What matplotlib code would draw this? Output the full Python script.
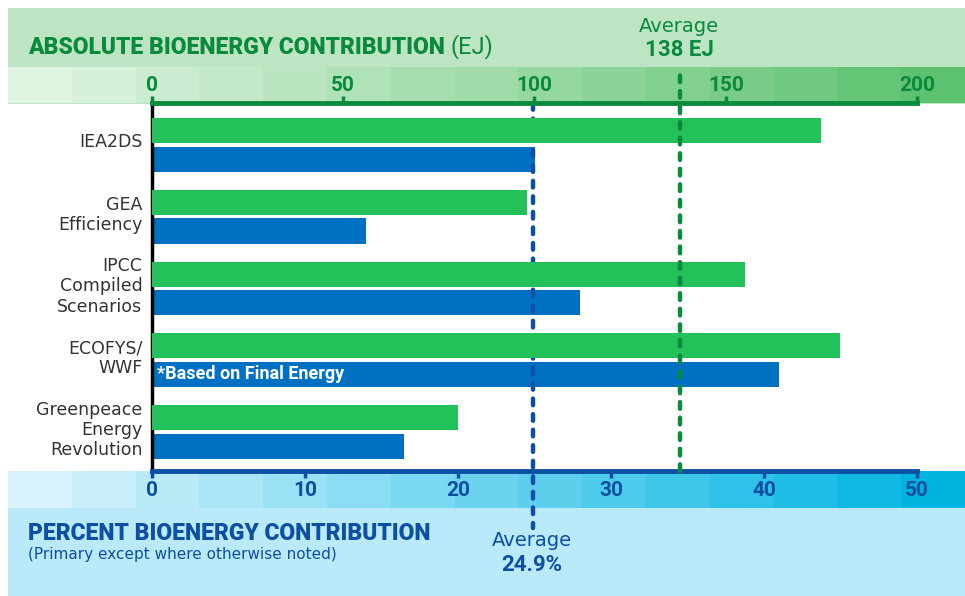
import numpy as np
import matplotlib
matplotlib.use('Agg')
import matplotlib.pyplot as plt
from matplotlib.patches import Rectangle
from matplotlib.colors import to_rgb

# data
scenarios = ['IEA2DS', 'GEA\nEfficiency', 'IPCC\nCompiled\nScenarios',
             'ECOFYS/\nWWF', 'Greenpeace\nEnergy\nRevolution']
absolute_ej = [175, 98, 155, 180, 80]
percent_share = [25, 14, 28, 41, 16.5]
avg_ej = 138
avg_pct = 24.9
ej_ticks = [0, 50, 100, 150, 200]
pct_ticks = [0, 10, 20, 30, 40, 50]

green = '#22c15a'
blue = '#0071c2'
dkgreen = '#0a8a3c'
dkblue = '#0c4fa3'
narrow = ['Roboto', 'DejaVu Sans']
label_font = ['DejaVu Sans']

W, H = 965, 596
fig = plt.figure(figsize=(W / 100, H / 100), dpi=100)

# background panels in pixel coords
bg = fig.add_axes([0, 0, 1, 1])
bg.set_xlim(0, W)
bg.set_ylim(H, 0)
bg.axis('off')
bg.add_patch(Rectangle((8, 8), W - 8, 96, color='#bde5c4', lw=0))
bg.add_patch(Rectangle((8, 471), W - 8, 125, color='#bae9f9', lw=0))

def steps(y0, y1, c0, c1, n=15):
    c0, c1 = np.array(to_rgb(c0)), np.array(to_rgb(c1))
    xs = np.linspace(8, W, n + 1)
    for i in range(n):
        t = i / (n - 1)
        bg.add_patch(Rectangle((xs[i], y0), xs[i + 1] - xs[i] + 0.5, y1 - y0,
                               color=c0 + (c1 - c0) * t, lw=0))

steps(67, 103, '#dff3e1', '#5cc26f')
steps(471, 508, '#d8f3fc', '#00b4e2')

# main axes
x0, x1, ytop, ybot = 152, 917, 103, 471
ax = fig.add_axes([x0 / W, 1 - ybot / H, (x1 - x0) / W, (ybot - ytop) / H])
ax.set_facecolor('none')
ax2 = ax.twiny()

ypos = np.arange(len(scenarios))
bh = 0.35
ax2.barh(ypos - 0.2, absolute_ej, height=bh, color=green, zorder=2)
ax.barh(ypos + 0.2, percent_share, height=bh, color=blue, zorder=2)

ax.set_xlim(0, 50)
ax2.set_xlim(0, 200)
ax.set_ylim(4.547, -0.586)

# labels sit a little above the group centre in the reference
ax.set_yticks(ypos - 0.07)
ax.set_yticklabels(scenarios, fontsize=12.5, color='#333333', family=label_font,
                   linespacing=1.15)
ax.tick_params(axis='y', length=0, pad=7)

ax.set_xticks(pct_ticks)
ax.set_xticklabels([str(t) for t in pct_ticks], fontsize=15, fontweight='bold',
                   color=dkblue, family=narrow)
ax.tick_params(axis='x', direction='out', length=5, width=2.5, color=dkblue, pad=2)
ax2.set_xticks(ej_ticks)
ax2.set_xticklabels([str(t) for t in ej_ticks], fontsize=15, fontweight='bold',
                    color=dkgreen, family=narrow)
ax2.tick_params(axis='x', direction='out', length=5, width=2.5, color=dkgreen, pad=1)

for a in (ax, ax2):
    for s in a.spines.values():
        s.set_visible(False)
ax2.spines['top'].set_visible(True)
ax2.spines['top'].set_color(dkgreen)
ax2.spines['top'].set_linewidth(3.5)
ax.spines['bottom'].set_visible(True)
ax.spines['bottom'].set_color(dkblue)
ax.spines['bottom'].set_linewidth(3.5)
ax.spines['left'].set_visible(True)
ax.spines['left'].set_color('black')
ax.spines['left'].set_linewidth(2.5)

ax.text(0.3, 3.2, '*Based on Final Energy', color='white', fontsize=13,
        fontweight='bold', va='center', ha='left', family=narrow, zorder=3)

# average lines
span = ybot - ytop
ax.plot([avg_pct, avg_pct], [1.0, -(528 - ybot) / span], color='#0d4ea8', lw=3.2,
        linestyle=(0, (1.5, 2.0)), dash_capstyle='round',
        transform=ax.get_xaxis_transform(), clip_on=False, zorder=4)
ax2.plot([avg_ej, avg_ej], [0.0, 1 + (ytop - 67) / span], color='#0a8a3c', lw=3.2,
         linestyle=(0, (1.5, 2.0)), dash_capstyle='round',
         transform=ax2.get_xaxis_transform(), clip_on=False, zorder=4)

# header texts
t1 = bg.text(28, 47, 'ABSOLUTE BIOENERGY CONTRIBUTION', fontsize=16.5, fontweight='heavy',
             color=dkgreen, va='center', ha='left', family=narrow)
bg.annotate('(EJ)', xy=(1, 0.5), xycoords=t1, xytext=(4, 0), textcoords='offset points',
            fontsize=17, color=dkgreen, va='center', ha='left', family=narrow)
bg.text(679, 27, 'Average', fontsize=14, color=dkgreen, va='center', ha='center',
        family=label_font)
bg.text(679, 50, '138 EJ', fontsize=16, fontweight='bold', color=dkgreen,
        va='center', ha='center', family=narrow)

bg.text(28, 533, 'PERCENT BIOENERGY CONTRIBUTION', fontsize=16.5, fontweight='heavy',
        color=dkblue, va='center', ha='left', family=narrow)
bg.text(28, 554, '(Primary except where otherwise noted)', fontsize=11,
        color=dkblue, va='center', ha='left', family=label_font)
bg.text(532, 541, 'Average', fontsize=14, color=dkblue, va='center', ha='center',
        family=label_font)
bg.text(532, 565, '24.9%', fontsize=16, fontweight='bold', color=dkblue,
        va='center', ha='center', family=narrow)

fig.savefig('out.png', dpi=100)
